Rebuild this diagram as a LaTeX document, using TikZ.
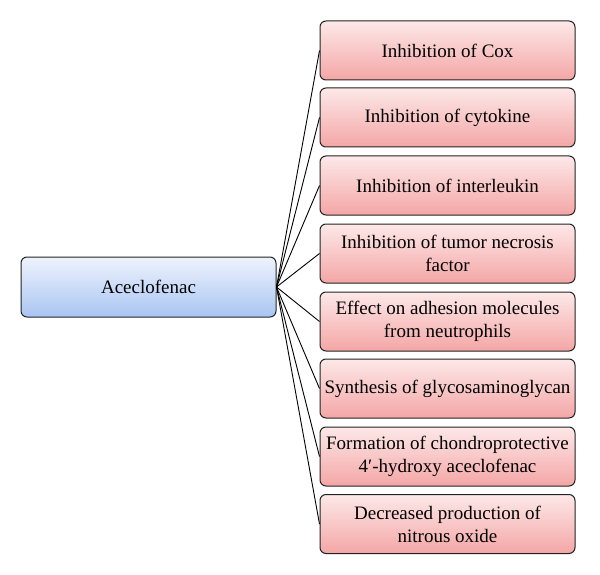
\documentclass[tikz,border=0pt]{standalone}
\usepackage{fontspec}
\setmainfont{Liberation Serif}
\definecolor{pinktop}{HTML}{FDE8E8}
\definecolor{pinkbot}{HTML}{F4A6A6}
\definecolor{bluetop}{HTML}{EEF3FD}
\definecolor{bluebot}{HTML}{A9C5F2}
\definecolor{edgegray}{HTML}{222222}
\tikzset{
  rbox/.style={draw=edgegray, line width=1pt, rounded corners=6pt,
    top color=pinktop, bottom color=pinkbot,
    minimum width=255pt, minimum height=59pt, inner sep=1pt,
    align=center, font=\fontsize{19}{23}\selectfont},
  lbox/.style={draw=edgegray, line width=1pt, rounded corners=6pt,
    top color=bluetop, bottom color=bluebot,
    minimum width=255pt, minimum height=60pt,
    align=center, font=\fontsize{19}{23}\selectfont},
  conn/.style={draw=black, line width=0.9pt}
}
\begin{document}
\begin{tikzpicture}[x=1pt,y=-1pt]
\useasboundingbox (0,0) rectangle (600,575);
\node[lbox] (root) at (148.5,287) {Aceclofenac};
\node[rbox] (b1) at (447.5,50.5) {Inhibition of Cox};
\node[rbox] (b2) at (447.5,117.5) {Inhibition of cytokine};
\node[rbox] (b3) at (447.5,185.5) {Inhibition of interleukin};
\node[rbox] (b4) at (447.5,253.5) {Inhibition of tumor necrosis\\factor};
\node[rbox] (b5) at (447.5,321.5) {Effect on adhesion molecules\\from neutrophils};
\node[rbox] (b6) at (447.5,388.5) {Synthesis of glycosaminoglycan};
\node[rbox] (b7) at (447.5,456.5) {Formation of chondroprotective\\4′-hydroxy aceclofenac};
\node[rbox] (b8) at (447.5,524) {Decreased production of\\nitrous oxide};
\foreach \b in {b1,b2,b3,b4,b5,b6,b7,b8}
  \draw[conn] (root.east) -- (\b.west);
\end{tikzpicture}
\end{document}
